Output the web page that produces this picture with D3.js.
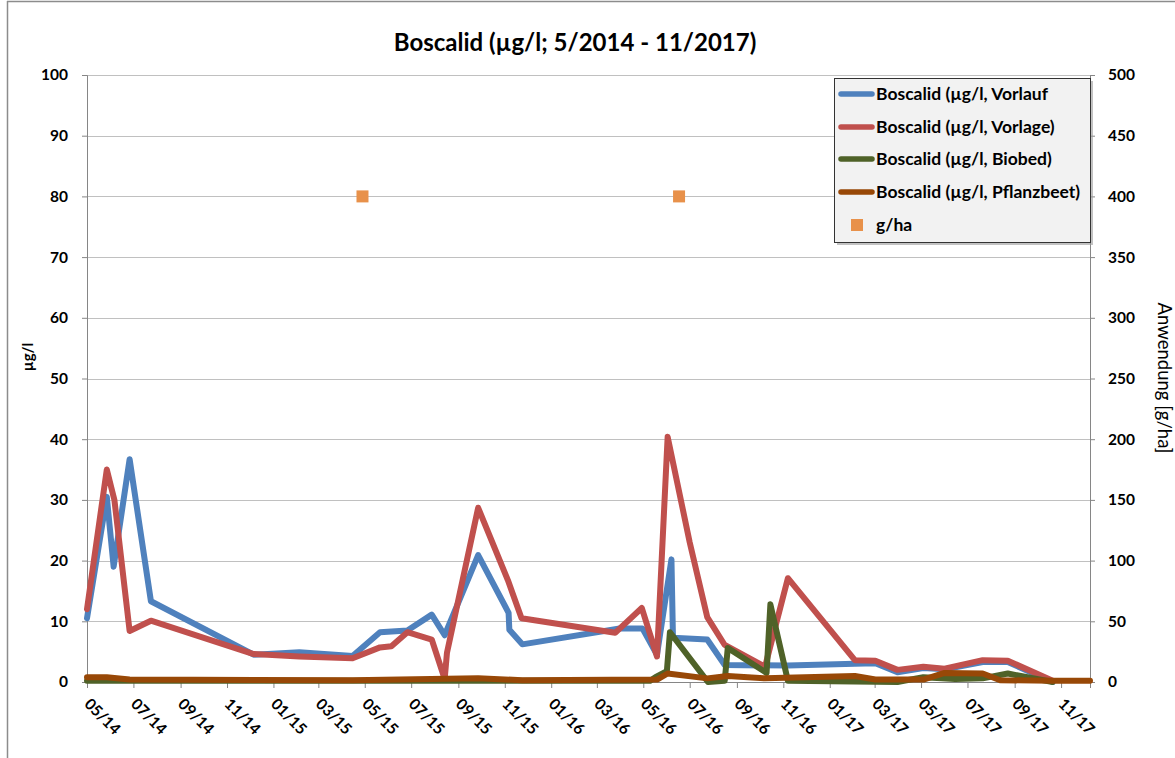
<!DOCTYPE html>
<html><head><meta charset="utf-8">
<script src="https://cdn.jsdelivr.net/npm/d3@7"></script>
<style>
body{margin:0;background:#fff;}
svg{display:block;font-family:Lato,"Open Sans",sans-serif;}
</style></head>
<body><svg id="c" width="1175" height="758"></svg>
<script>
const title = "Boscalid (µg/l; 5/2014 - 11/2017)";
const seriesNames = ["Boscalid (µg/l, Vorlauf","Boscalid (µg/l, Vorlage)","Boscalid (µg/l, Biobed)","Boscalid (µg/l, Pflanzbeet)"];
const seriesColors = ["#4f81bd","#c0504d","#4f6228","#984807"];
const leftTicks = [0,10,20,30,40,50,60,70,80,90,100];
const rightTicks = [0,50,100,150,200,250,300,350,400,450,500];

const vorlaufDates = ["2014-05-01","2014-05-27","2014-06-05","2014-06-26","2014-07-24","2014-12-06","2015-02-04","2015-04-15","2015-05-21","2015-06-26","2015-07-28","2015-08-14","2015-09-27","2015-11-06","2015-11-07","2015-11-24","2016-03-31","2016-04-30","2016-05-19","2016-06-07","2016-06-09","2016-07-24","2016-08-16","2016-11-07","2017-02-03","2017-03-02","2017-03-31","2017-05-04","2017-06-01","2017-07-21","2017-08-23","2017-10-21"];
const vorlaufValues = [10.5,30.5,19,36.7,13.3,4.5,4.9,4.3,8.2,8.5,11.1,7.7,20.9,11.4,8.6,6.2,8.8,8.8,4.5,20.2,7.3,7.0,2.8,2.7,3.0,3.1,1.6,2.3,2.1,3.3,3.3,0];

const vorlageDates = ["2014-05-01","2014-05-27","2014-06-06","2014-06-26","2014-07-24","2014-12-06","2015-02-04","2015-04-15","2015-05-21","2015-06-05","2015-06-26","2015-07-28","2015-08-14","2015-08-17","2015-09-27","2015-11-05","2015-11-23","2016-03-25","2016-04-29","2016-05-19","2016-06-02","2016-07-01","2016-07-24","2016-08-16","2016-10-08","2016-11-07","2017-02-03","2017-03-02","2017-03-31","2017-05-04","2017-06-01","2017-07-21","2017-08-23","2017-10-21"];
const vorlageValues = [12,35,30,8.4,10.1,4.6,4.2,3.9,5.7,5.9,8.2,7.0,0.5,4.8,28.7,16.8,10.5,8.1,12.2,4.2,40.4,23,10.7,6.1,2.5,17.1,3.6,3.5,2.0,2.5,2.2,3.6,3.5,0.2];

const biobedDates = ["2014-05-01","2016-05-10","2016-05-17","2016-06-01","2016-06-05","2016-07-25","2016-08-16","2016-08-20","2016-10-10","2016-10-15","2016-11-07","2017-03-31","2017-05-04","2017-06-15","2017-07-21","2017-08-23","2017-10-21"];
const biobedValues = [0.2,0.2,0.8,1.8,8.2,0,0.2,5.6,1.5,12.8,0.2,0,0.8,0.5,0.6,1.4,0];

const pflanzDates = ["2014-05-01","2014-05-27","2014-06-26","2015-04-15","2015-09-27","2015-11-24","2016-05-19","2016-06-02","2016-07-24","2016-08-20","2016-10-08","2017-02-03","2017-03-02","2017-05-04","2017-06-01","2017-07-21","2017-08-13","2017-10-21","2017-12-09"];
const pflanzValues = [0.8,0.8,0.4,0.3,0.6,0.3,0.4,1.4,0.6,1.0,0.6,1.0,0.4,0.4,1.5,1.4,0.3,0.2,0.2];

const applicationDates = ["2015-04-28","2016-06-17"];
const applicationValues = [400,400];
const appLabel = "g/ha";

const parse = d3.timeParse("%Y-%m-%d");
const svg = d3.select("#c");
const L = 87, R = 1090, T = 75, B = 682;

const x = d3.scaleTime().domain([parse("2014-05-01"), parse("2017-12-09")]).range([L, R]);
const y = d3.scaleLinear().domain([0,100]).range([B, T]);
const y2 = d3.scaleLinear().domain([0,500]).range([B, T]);

// outer chart border (left/top)
svg.append("line").attr("x1",7.5).attr("x2",7.5).attr("y1",1).attr("y2",758).attr("stroke","#8c8c8c").attr("stroke-width",1.5);
svg.append("line").attr("x1",7).attr("x2",1175).attr("y1",1.5).attr("y2",1.5).attr("stroke","#8c8c8c").attr("stroke-width",1.5);

// title
svg.append("text").attr("x",575).attr("y",51).attr("text-anchor","middle")
  .attr("font-size",24).attr("font-weight","bold").attr("fill","#000").text(title);

// gridlines
svg.append("g").selectAll("line").data(leftTicks.filter(d=>d>0)).join("line")
  .attr("x1",L).attr("x2",R).attr("y1",d=>Math.round(y(d))+0.5).attr("y2",d=>Math.round(y(d))+0.5)
  .attr("stroke","#c0c0c0").attr("stroke-width",1.2);

// left axis
const gl = svg.append("g").attr("transform",`translate(${L},0)`)
  .call(d3.axisLeft(y).tickValues(leftTicks).tickSize(5).tickPadding(14));
gl.select(".domain").attr("stroke","#868686");
gl.selectAll(".tick line").attr("stroke","#868686");
gl.selectAll(".tick text").attr("font-size",15.5).attr("font-weight","bold").attr("fill","#000").attr("font-family","Lato");

// right axis
const gr = svg.append("g").attr("transform",`translate(${R},0)`)
  .call(d3.axisRight(y2).tickValues(rightTicks).tickSize(5).tickPadding(13));
gr.select(".domain").attr("stroke","#868686");
gr.selectAll(".tick line").attr("stroke","#868686");
gr.selectAll(".tick text").attr("font-size",15.5).attr("font-weight","bold").attr("fill","#000").attr("font-family","Lato");

// x axis
const xTicks = d3.timeMonth.every(2).range(parse("2014-05-01"), parse("2017-11-02"));
const gx = svg.append("g").attr("transform",`translate(0,${B})`)
  .call(d3.axisBottom(x).tickValues(xTicks).tickSize(6).tickFormat(d3.timeFormat("%m/%y")));
gx.select(".domain").attr("stroke","#868686");
gx.selectAll(".tick line").attr("stroke","#868686");
gx.selectAll(".tick text").attr("font-size",15.5).attr("font-weight","bold").attr("fill","#000").attr("font-family","Lato")
  .attr("text-anchor","start").attr("dy",null).attr("y",null)
  .attr("transform","translate(-4,23) rotate(45)");

// axis titles
svg.append("text").attr("transform","translate(33,357) rotate(-90)").attr("text-anchor","middle")
  .attr("font-size",15).attr("font-weight","bold").text("µg/l");
svg.append("text").attr("transform","translate(1158,378) rotate(90)").attr("text-anchor","middle")
  .attr("font-size",18.5).text("Anwendung [g/ha]");

// series lines
const series = [
  {dates:vorlaufDates, values:vorlaufValues},
  {dates:vorlageDates, values:vorlageValues},
  {dates:biobedDates, values:biobedValues},
  {dates:pflanzDates, values:pflanzValues}
];
const line = d3.line().x(d=>x(d[0])).y(d=>y(d[1]));
series.forEach((s,i)=>{
  const pts = s.dates.map((d,j)=>[parse(d), s.values[j]]);
  svg.append("path").datum(pts).attr("d",line).attr("fill","none")
    .attr("stroke",seriesColors[i]).attr("stroke-width",6)
    .attr("stroke-linejoin","round").attr("stroke-linecap","round");
});

// application markers
svg.append("g").selectAll("rect").data(applicationDates.map((d,i)=>[parse(d),applicationValues[i]])).join("rect")
  .attr("x",d=>x(d[0])-6).attr("y",d=>y2(d[1])-6).attr("width",12).attr("height",12).attr("fill","#e8914a");

// legend
const lg = svg.append("g");
lg.append("rect").attr("x",837).attr("y",81).attr("width",256).attr("height",164).attr("fill","#9a9a9a").attr("opacity",0.6);
lg.append("rect").attr("x",834.5).attr("y",78.5).attr("width",256).attr("height",164).attr("fill","#f2f2f2").attr("stroke","#333").attr("stroke-width",1);
const rowY = [94,127,159,192,225];
seriesNames.forEach((n,i)=>{
  lg.append("line").attr("x1",841).attr("x2",872).attr("y1",rowY[i]).attr("y2",rowY[i])
    .attr("stroke",seriesColors[i]).attr("stroke-width",5.5).attr("stroke-linecap","round");
  lg.append("text").attr("x",876).attr("y",rowY[i]).attr("dy","0.35em")
    .attr("font-size",17.5).attr("font-weight","bold").text(n);
});
lg.append("rect").attr("x",851).attr("y",rowY[4]-6).attr("width",12).attr("height",12).attr("fill","#e8914a");
lg.append("text").attr("x",876).attr("y",rowY[4]).attr("dy","0.35em")
  .attr("font-size",17.5).attr("font-weight","bold").text(appLabel);
</script></body></html>
